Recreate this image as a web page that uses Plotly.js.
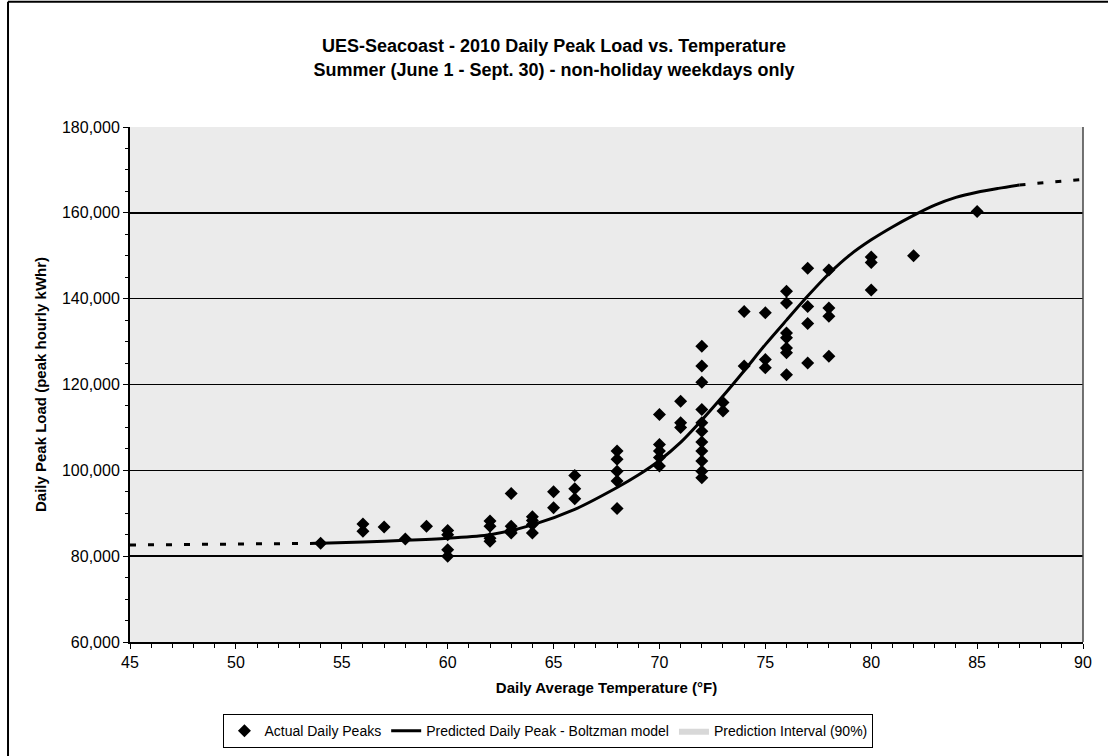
<!DOCTYPE html>
<html>
<head>
<meta charset="utf-8">
<script src="https://cdn.plot.ly/plotly-3.0.1.min.js"></script>
<style>html,body{margin:0;padding:0;background:#fff}#chart{width:1108px;height:756px}</style>
</head>
<body>
<div id="chart"></div>
<script>
// Actual daily peaks (temperature °F, peak load kWhr)
const peakTemp = [54,56,56,57,58,59,60,60,60,60,62,62,62,62,63,63,63,63,64,64,64,64,65,65,66,66,66,
  68,68,68,68,68,70,70,70,70,70,71,71,71,
  72,72,72,72,72,72,72,72,72,72,72,73,73,74,74,75,75,75,
  76,76,76,76,76,76,76,77,77,77,77,78,78,78,78,80,80,80,82,85];
const peakLoad = [83000,87500,85800,86800,84000,87000,86000,85000,81500,80000,88200,87000,84200,83500,94600,87000,86000,85400,89200,88300,87400,85400,95000,91300,98800,95700,93400,
  104500,102600,99800,97500,91100,113000,106000,104500,103000,101000,116100,111100,110000,
  128900,124300,120500,114200,111100,109100,106600,104500,102200,99800,98300,115800,113800,137000,124300,136700,125800,123900,
  141700,139000,132000,130900,128500,127400,122300,147100,138200,134200,125000,146700,137800,135900,126600,149700,148400,142000,150000,160300];

// Predicted daily peak - Boltzman model
const modelTemp = [54,56,58,60,62,64,66,68,69,70,71,72,73,74,75,76,77,78,79,80,81,82,83,84,85,86,87];
const modelLoad = [83000,83300,83700,84200,85000,87300,90900,96000,98900,102300,106500,111700,117300,123200,129300,135000,140600,145800,150200,153700,156700,159400,161800,163600,164800,165700,166500];

// Dotted extrapolations of the model
const extLeftTemp = [45,54];
const extLeftLoad = [82600,83000];
const extRightTemp = [87,90];
const extRightLoad = [166500,167800];

const titleText = "UES-Seacoast - 2010 Daily Peak Load vs. Temperature<br>Summer (June 1 - Sept. 30) - non-holiday weekdays only";
const xTitle = "Daily Average Temperature (°F)";
const yTitle = "Daily Peak Load (peak hourly kWhr)";

const traces = [
  {x: extLeftTemp, y: extLeftLoad, mode: 'lines', line: {color: '#000', width: 3, dash: '6px,12px'}, showlegend: false, hoverinfo: 'skip'},
  {x: extRightTemp, y: extRightLoad, mode: 'lines', line: {color: '#000', width: 3, dash: '6px,12px'}, showlegend: false, hoverinfo: 'skip'},
  {x: peakTemp, y: peakLoad, mode: 'markers', name: 'Actual Daily Peaks',
   marker: {symbol: 'diamond', size: 10, color: '#000'}},
  {x: modelTemp, y: modelLoad, mode: 'lines', name: 'Predicted Daily Peak - Boltzman model',
   line: {color: '#000', width: 3, shape: 'spline', smoothing: 0.8}},
  {x: [null], y: [null], mode: 'lines', name: 'Prediction Interval (90%)', fill: 'toself',
   fillcolor: '#d8d8d8', line: {width: 0, color: '#d8d8d8'}}
];

const layout = {
  width: 1108, height: 756,
  margin: {l: 130, r: 25, t: 127, b: 114},
  paper_bgcolor: '#ffffff',
  plot_bgcolor: '#ebebeb',
  font: {family: 'Liberation Sans, Arial, sans-serif', color: '#000', size: 16},
  title: {text: titleText, x: 0.5, xref: 'container', xanchor: 'center', y: 0.931, yanchor: 'top',
          font: {size: 18, family: 'Liberation Sans, Arial, sans-serif', weight: 'bold', color: '#000'}},
  xaxis: {range: [45, 90], dtick: 5, tick0: 45, showgrid: false, zeroline: false,
          showline: true, linecolor: '#000', linewidth: 2, mirror: false,
          ticks: 'outside', ticklen: 5, tickcolor: '#000', tickwidth: 1,
          minor: {dtick: 1, ticks: 'outside', ticklen: 4, tickcolor: '#000', showgrid: false},
          tickfont: {size: 16},
          title: {text: xTitle, standoff: 12, font: {size: 15, weight: 'bold'}}},
  yaxis: {range: [60000, 180000], dtick: 20000, tickformat: ',d', showgrid: true, gridcolor: '#000', gridwidth: 1.5,
          zeroline: false, showline: true, linecolor: '#000', linewidth: 2,
          ticks: 'outside', ticklen: 5, tickcolor: '#000', tickwidth: 1,
          minor: {dtick: 5000, ticks: 'outside', ticklen: 3, tickcolor: '#000', showgrid: false},
          tickfont: {size: 16},
          title: {text: yTitle, standoff: 12, font: {size: 15, weight: 'bold'}}},
  showlegend: true,
  legend: {orientation: 'h', xref: 'container', yref: 'container', x: 0.495, xanchor: 'center',
           y: 0.033, yanchor: 'middle', bgcolor: '#fff', bordercolor: '#000', borderwidth: 1,
           font: {size: 14}, traceorder: 'normal'},
  shapes: [
    {type: 'line', xref: 'paper', yref: 'paper', x0: 1, x1: 1, y0: 0, y1: 1, line: {color: '#444', width: 1.5}},
    {type: 'line', xref: 'paper', yref: 'paper', x0: -0.128, x1: -0.128, y0: -0.23, y1: 1.243, line: {color: '#000', width: 2}},
    {type: 'line', xref: 'paper', yref: 'paper', x0: -0.128, x1: 1.03, y0: 1.243, y1: 1.243, line: {color: '#000', width: 2}}
  ]
};

Plotly.newPlot('chart', traces, layout, {displayModeBar: false, staticPlot: true});
</script>
</body>
</html>
